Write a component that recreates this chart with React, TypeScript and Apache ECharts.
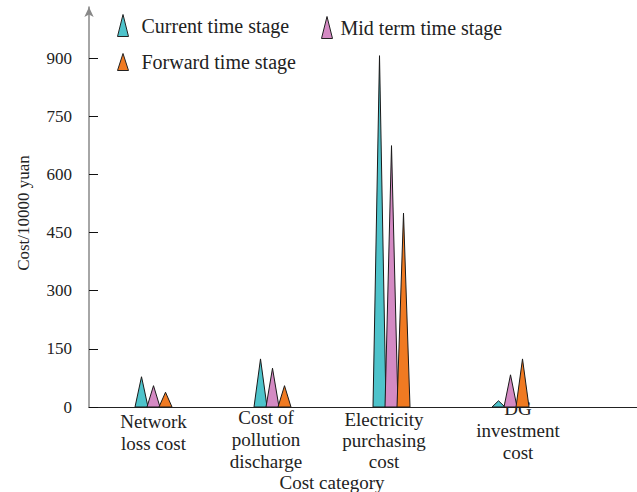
import React, { useEffect, useRef } from "react";
import * as echarts from "echarts";

const categories = [
  "Network\nloss cost",
  "Cost of\npollution\ndischarge",
  "Electricity\npurchasing\ncost",
  "DG\ninvestment\ncost",
];
const seriesNames = ["Current time stage", "Mid term time stage", "Forward time stage"];
const currentStage = [78, 124, 906, 16];
const midTermStage = [55, 100, 674, 83];
const forwardStage = [38, 55, 500, 124];
const yTicks = [0, 150, 300, 450, 600, 750, 900];

const colors = ["#4EC3CB", "#D48AC3", "#F07A22"];
const FONT = "Liberation Serif";

// per-category label nudges: [top, right, bottom, left]
const labelPads = [
  [13, 0, 0, 0],
  [9, 13, 0, 0],
  [12, 15, 0, 0],
  [0, 0, 0, 15],
];
const labelLineHeights = [22, 22, 21, 22];

export default function App() {
  const ref = useRef<HTMLDivElement>(null);
  useEffect(() => {
    if (!ref.current) return;
    const chart = echarts.init(ref.current, null, { renderer: "svg" });
    const values = [currentStage, midTermStage, forwardStage];
    const legendText = { fontFamily: FONT, fontSize: 20, color: "#222" };
    const legendCommon = {
      icon: "triangle",
      itemWidth: 11,
      itemHeight: 22,
      itemStyle: { borderColor: "#222", borderWidth: 1 },
    };
    const option: any = {
      animation: false,
      backgroundColor: "#ffffff",
      textStyle: { fontFamily: FONT },
      grid: [
        { left: 94, right: 67, top: 58, bottom: 85, outerBoundsMode: "none", containLabel: false },
        { left: 89, right: 0, top: 7, bottom: 85, outerBoundsMode: "none", containLabel: false },
      ],
      legend: [
        {
          ...legendCommon,
          data: [seriesNames[0]],
          left: 112,
          top: 9,
          textStyle: { ...legendText, padding: [4, 0, 0, 8] },
        },
        {
          ...legendCommon,
          data: [seriesNames[1]],
          left: 316,
          top: 11,
          textStyle: { ...legendText, padding: [2, 0, 0, 3] },
        },
        {
          ...legendCommon,
          itemHeight: 17,
          data: [seriesNames[2]],
          left: 112,
          top: 47,
          textStyle: { ...legendText, padding: [1, 0, 0, 8] },
        },
      ],
      xAxis: [
        {
          type: "category",
          gridIndex: 0,
          data: categories.map((c, i) => ({
            value: c,
            textStyle: { padding: labelPads[i], lineHeight: labelLineHeights[i] },
          })),
          axisLine: { show: false },
          axisTick: { show: false },
          axisLabel: {
            margin: -10,
            fontFamily: FONT,
            fontSize: 19,
            lineHeight: 22,
            color: "#222",
            interval: 0,
          },
          name: "Cost category",
          nameLocation: "middle",
          nameGap: 66,
          nameMoveOverlap: false,
          nameTextStyle: { fontFamily: FONT, fontSize: 19, color: "#222" },
          splitLine: { show: false },
        },
        {
          type: "value",
          gridIndex: 1,
          min: 0,
          max: 1,
          axisLine: { show: true, lineStyle: { color: "#222", width: 1.2 } },
          axisTick: { show: false },
          axisLabel: { show: false },
          splitLine: { show: false },
        },
      ],
      yAxis: [
        {
          type: "value",
          gridIndex: 0,
          min: 0,
          max: 900,
          interval: 150,
          offset: 5,
          axisLine: { show: false },
          axisTick: { show: true, inside: true, length: 9, lineStyle: { color: "#111", width: 1 } },
          axisLabel: {
            margin: 17,
            fontFamily: FONT,
            fontSize: 17,
            color: "#222",
            formatter: (v: number) => (yTicks.includes(v) ? String(v) : ""),
          },
          splitLine: { show: false },
        },
        {
          type: "value",
          gridIndex: 1,
          min: 0,
          max: 1,
          axisLine: {
            show: true,
            symbol: ["none", "arrow"],
            symbolSize: [7, 10],
            lineStyle: { color: "#888", width: 1.5 },
          },
          axisTick: { show: false },
          axisLabel: { show: false },
          splitLine: { show: false },
          name: "Cost/10000 yuan",
          nameLocation: "middle",
          nameGap: 57,
          nameMoveOverlap: false,
          nameTextStyle: { fontFamily: FONT, fontSize: 17, color: "#222", padding: [0, 12, 0, 0] },
        },
      ],
      series: seriesNames.map((name, i) => ({
        name,
        type: "custom",
        xAxisIndex: 0,
        yAxisIndex: 0,
        itemStyle: { color: colors[i], borderColor: "#1a1a1a", borderWidth: 1 },
        encode: { x: 0, y: 1 },
        data: values[i].map((v, k) => [k, v]),
        renderItem: (params: any, api: any) => {
          const k = api.value(0);
          const v = api.value(1);
          const base = api.coord([k, 0]);
          const top = api.coord([k, v]);
          const cx = base[0] + (i - 1) * 12;
          const hw = 6.5;
          return {
            type: "polygon",
            shape: {
              points: [
                [cx - hw, base[1]],
                [cx, top[1]],
                [cx + hw, base[1]],
              ],
            },
            style: { fill: colors[i], stroke: "#1a1a1a", lineWidth: 1 },
          };
        },
      })),
    };
    chart.setOption(option);
    return () => chart.dispose();
  }, []);
  return (
    <div
      ref={ref}
      style={{ position: "fixed", left: 0, top: 0, width: 637, height: 492 }}
    />
  );
}
